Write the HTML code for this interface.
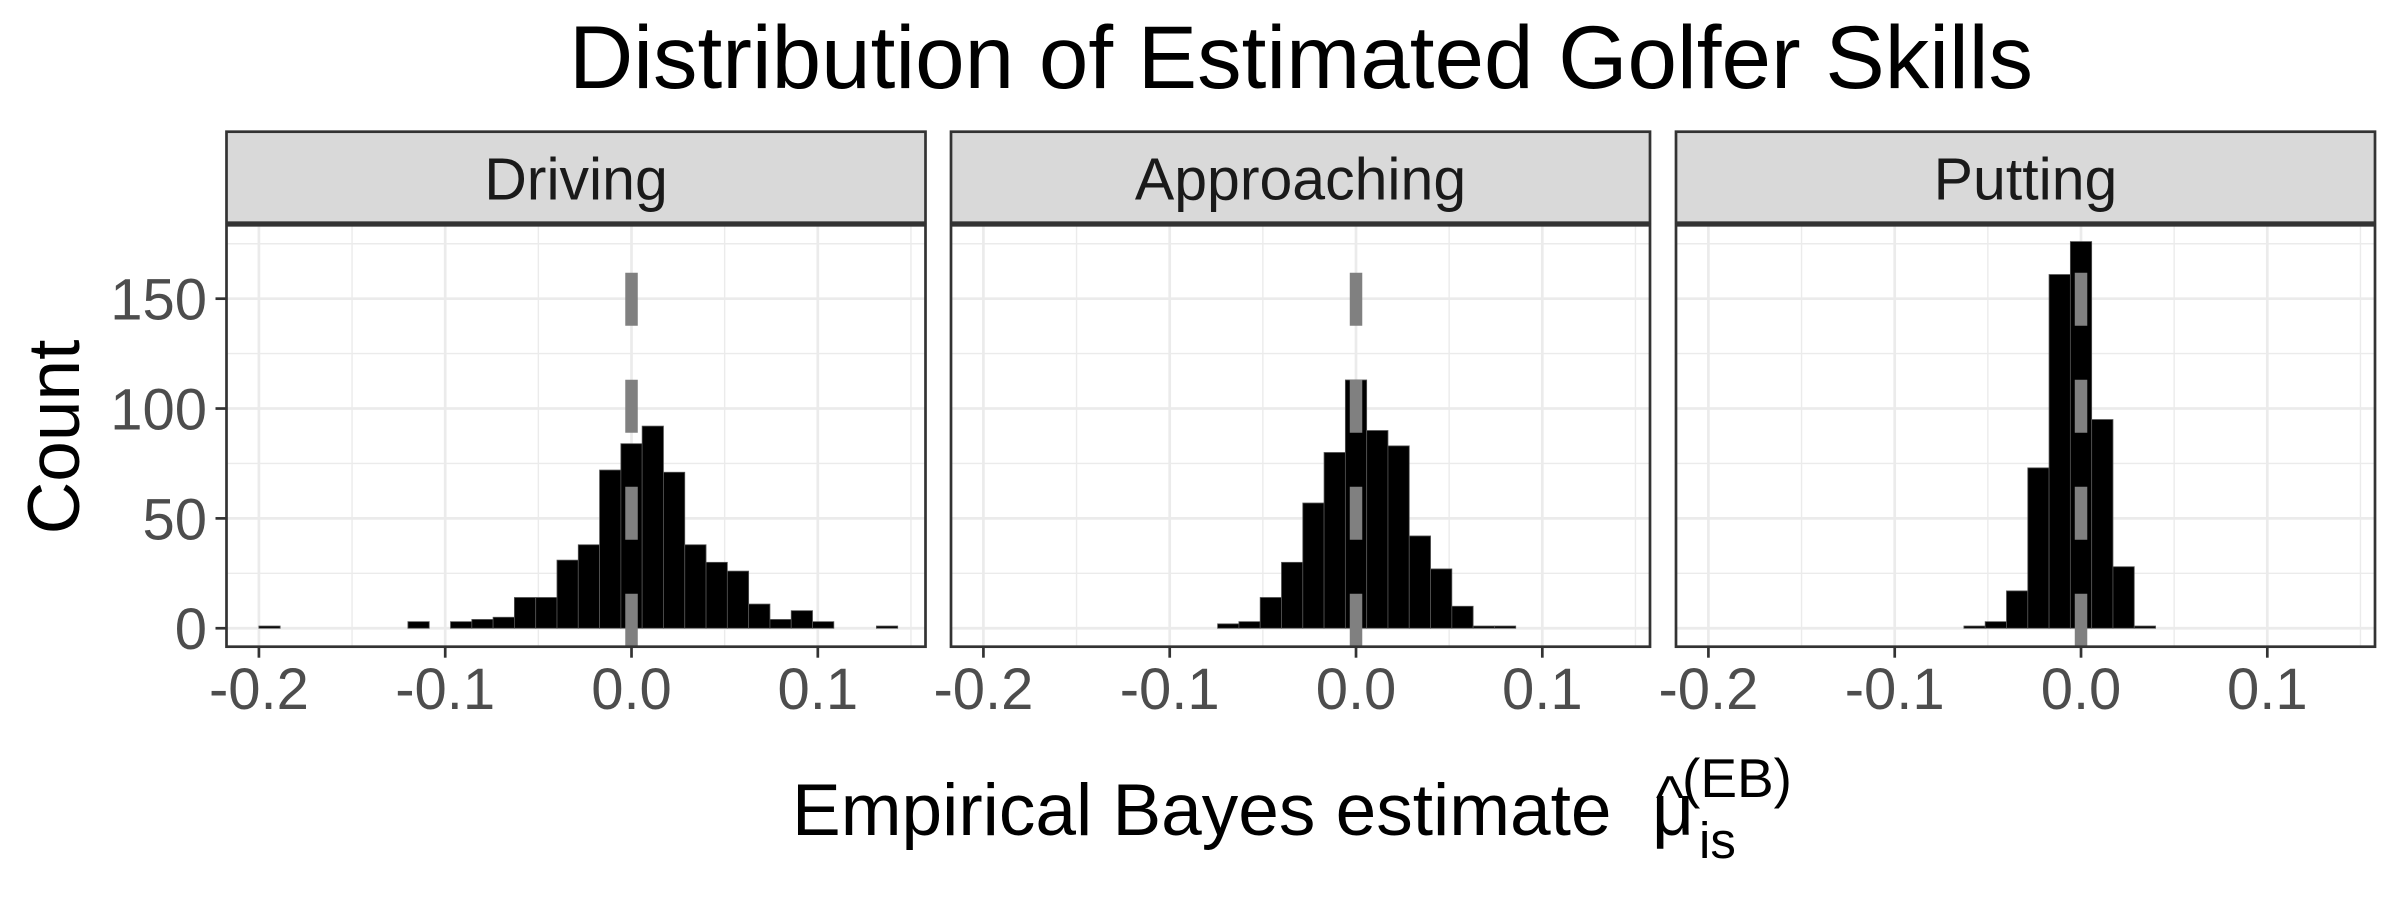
<!DOCTYPE html>
<html><head><meta charset="utf-8">
<style>
html,body{margin:0;padding:0;background:#fff;}
svg{display:block;font-family:"Liberation Sans",Arial,sans-serif;}
</style></head>
<body>
<svg id="chart" width="2400" height="900" viewBox="0 0 2400 900" xmlns="http://www.w3.org/2000/svg">
<rect x="0" y="0" width="2400" height="900" fill="#fff"/>
<text x="1301" y="88" font-size="89" text-anchor="middle" fill="#000">Distribution of Estimated Golfer Skills</text>
<text transform="translate(79,437) rotate(-90)" font-size="73" text-anchor="middle" fill="#000">Count</text>
<text x="792" y="835" font-size="73" fill="#000">Empirical Bayes estimate <tspan x="1652" y="835">μ</tspan><tspan x="1699" y="858" font-size="51">is</tspan><tspan x="1682" y="797" font-size="55">(EB)</tspan></text>
<text x="1670" y="818" font-size="60" text-anchor="middle" fill="#000">^</text>
<g id="panels"></g>
</svg>
<script>
const panelNames = ["Driving", "Approaching", "Putting"];
const binWidth = 0.01143;
const drivingBins = [-17, -10, -8, -7, -6, -5, -4, -3, -2, -1, 0, 1, 2, 3, 4, 5, 6, 7, 8, 9, 12];
const drivingCounts = [1, 3, 3, 4, 5, 14, 14, 31, 38, 72, 84, 92, 71, 38, 30, 26, 11, 4, 8, 3, 1];
const approachingBins = [-6, -5, -4, -3, -2, -1, 0, 1, 2, 3, 4, 5, 6, 7];
const approachingCounts = [2, 3, 14, 30, 57, 80, 113, 90, 83, 42, 27, 10, 1, 1];
const puttingBins = [-5, -4, -3, -2, -1, 0, 1, 2, 3];
const puttingCounts = [1, 3, 17, 73, 161, 176, 95, 28, 1];
const xTicks = [-0.2, -0.1, 0.0, 0.1];
const xTickLabels = ["-0.2", "-0.1", "0.0", "0.1"];
const xMinor = [-0.15, -0.05, 0.05, 0.15];
const yTicks = [0, 50, 100, 150];
const yTickLabels = ["0", "50", "100", "150"];
const yMinor = [25, 75, 125, 175];
const refLine = 0;

const binsAll = [drivingBins, approachingBins, puttingBins];
const countsAll = [drivingCounts, approachingCounts, puttingCounts];

const NS = "http://www.w3.org/2000/svg";
const panelLefts = [226.5, 951, 1676];
const panelW = 699, pTop = 225.3, pBottom = 646.7;
const xDom = [-0.2174, 0.1578], yDom = [-8.4, 183.4];
function mk(tag, attrs, parent) {
  const e = document.createElementNS(NS, tag);
  for (const k in attrs) e.setAttribute(k, attrs[k]);
  parent.appendChild(e);
  return e;
}
const root = document.getElementById("panels");
const yScale = v => pBottom - (v - yDom[0]) / (yDom[1] - yDom[0]) * (pBottom - pTop);

panelNames.forEach((name, p) => {
  const L = panelLefts[p];
  const xScale = v => L + (v - xDom[0]) / (xDom[1] - xDom[0]) * panelW;
  const g = mk("g", {}, root);
  
  
  const strip = mk("rect", {x: L, y: 131.7, width: panelW, height: 91, fill: "#d9d9d9", stroke: "#333", "stroke-width": 2.7}, g);
  
  
  const st = mk("text", {x: L + panelW / 2, y: 199.5, "font-size": 59, "text-anchor": "middle", fill: "#1a1a1a"}, g);
  st.textContent = name;
  
  
  mk("rect", {x: L, y: pTop, width: panelW, height: pBottom - pTop, fill: "#fff"}, g);
  xMinor.forEach(v => { const x = xScale(v); if (x > L && x < L + panelW) { const l = mk("line", {x1: x, x2: x, y1: pTop, y2: pBottom, stroke: "#ebebeb", "stroke-width": 1.4}, g);   } });
  yMinor.forEach(v => { const y = yScale(v); const l = mk("line", {x1: L, x2: L + panelW, y1: y, y2: y, stroke: "#ebebeb", "stroke-width": 1.4}, g);   });
  xTicks.forEach(v => { const x = xScale(v); const l = mk("line", {x1: x, x2: x, y1: pTop, y2: pBottom, stroke: "#ebebeb", "stroke-width": 2.7}, g);   });
  yTicks.forEach(v => { const y = yScale(v); const l = mk("line", {x1: L, x2: L + panelW, y1: y, y2: y, stroke: "#ebebeb", "stroke-width": 2.7}, g);   });
  const bins = binsAll[p], counts = countsAll[p];
  bins.forEach((b, i) => {
    const x0 = xScale(b * binWidth - binWidth / 2), x1 = xScale(b * binWidth + binWidth / 2);
    const y0 = yScale(0), y1 = yScale(counts[i]);
    const r = mk("rect", {x: x0, y: y1, width: x1 - x0, height: y0 - y1, fill: "#000", stroke: "#555", "stroke-width": 0.8}, g);
    
    
  });
  const rx = xScale(refLine);
  const rl = mk("line", {x1: rx, x2: rx, y1: pBottom, y2: pTop, stroke: "#808080", "stroke-width": 12.5, "stroke-dasharray": "53 54"}, g);
  
  
  const bd = mk("rect", {x: L, y: pTop, width: panelW, height: pBottom - pTop, fill: "none", stroke: "#333", "stroke-width": 2.7}, g);
  
  
  xTicks.forEach((v, i) => {
    const x = xScale(v);
    const t = mk("line", {x1: x, x2: x, y1: pBottom, y2: pBottom + 11, stroke: "#333", "stroke-width": 2.7}, g);
    
    
    const lb = mk("text", {x: x, y: 709, "font-size": 58, "text-anchor": "middle", fill: "#4d4d4d"}, g);
    lb.textContent = xTickLabels[i];
    
    
  });
  if (p === 0) {
    yTicks.forEach((v, i) => {
      const y = yScale(v);
      const t = mk("line", {x1: L - 11, x2: L, y1: y, y2: y, stroke: "#333", "stroke-width": 2.7}, g);
      
      
      const lb = mk("text", {x: 207, y: y + 21, "font-size": 58, "text-anchor": "end", fill: "#4d4d4d"}, g);
      lb.textContent = yTickLabels[i];
      
      
    });
  }
});
</script>
</body></html>
